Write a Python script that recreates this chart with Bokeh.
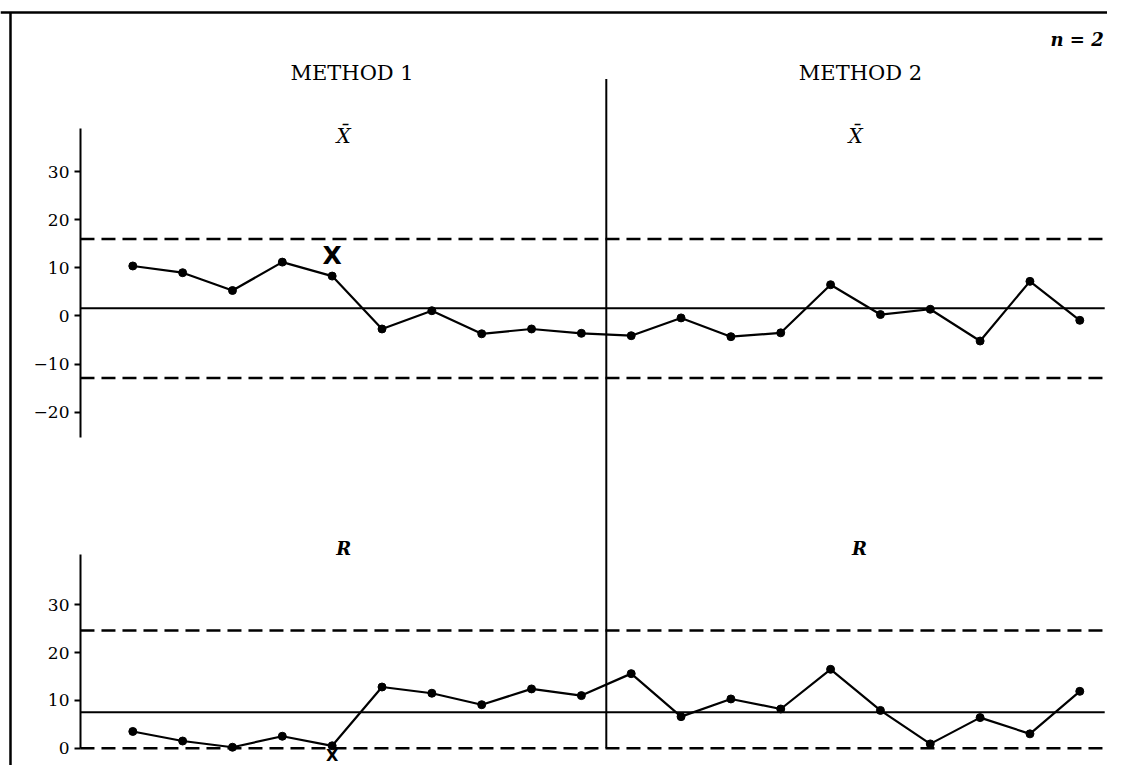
from bokeh.plotting import figure
from bokeh.models import Range1d, LinearAxis, FixedTicker, Label, Span
from bokeh.core.properties import value
from bokeh.embed import file_html
from bokeh.resources import INLINE

# ---------------- data ----------------
sample = list(range(1, 21))
xbar = [10.4, 9.0, 5.3, 11.2, 8.3, -2.7, 1.1, -3.7, -2.7, -3.6,
        -4.1, -0.4, -4.3, -3.5, 6.5, 0.3, 1.4, -5.2, 7.2, -0.9]
rng = [3.5, 1.5, 0.2, 2.5, 0.5, 12.8, 11.5, 9.1, 12.4, 11.0,
       15.6, 6.6, 10.3, 8.2, 16.5, 7.9, 0.9, 6.4, 3.0, 11.9]
xbar_center = [1.6]
xbar_limits = [16.0, -12.9]
r_center = [7.5]
r_limits = [24.6, 0.0]
xbar_ticks = [-20, -10, 0, 10, 20, 30]
r_ticks = [0, 10, 20, 30]
method_labels = ["METHOD 1", "METHOD 2"]
flag_sample = [5]
xbar_flag = [12.5]
r_flag = [-1.5]

# ---------------- layout constants ----------------
W, H = 1107, 765
AX = -0.05          # x position of the y axes (sample units)
XEND = 20.5         # right end of the control lines
DIV = 10.5          # divider between the methods
SERIF = "DejaVu Serif"

p = figure(width=W, height=H, x_range=Range1d(-1.6545, 20.556),
           y_range=Range1d(-93.45, 65.59), output_backend="svg",
           toolbar_location=None, min_border=0, x_axis_type=None,
           y_axis_type=None, background_fill_color="white",
           border_fill_color="white")
p.outline_line_color = None
p.extra_y_ranges = {"r": Range1d(-3.62, 156.42)}

# frame (top and left edges)
p.add_layout(Span(location=63.1, dimension="width", line_color="black", line_width=2.5))
p.segment(x0=[-1.454], x1=[-1.454], y0=[63.1], y1=[-93.45],
          line_color="black", line_width=2.5)

def style_axis(ax):
    ax.axis_line_width = 2
    ax.axis_line_color = "black"
    ax.major_tick_line_width = 2
    ax.major_tick_out = 6
    ax.major_tick_in = 0
    ax.minor_tick_out = 0
    ax.minor_tick_in = 0
    ax.major_label_text_font = SERIF
    ax.major_label_text_font_size = "17px"
    ax.major_label_text_color = "black"
    ax.major_label_standoff = 5

ax1 = LinearAxis(fixed_location=AX, bounds=(-25.3, 39),
                 ticker=FixedTicker(ticks=xbar_ticks))
ax1.major_label_overrides = {t: ("\u2212" + str(-t)) for t in xbar_ticks if t < 0}
style_axis(ax1)
p.add_layout(ax1, "left")

ax2 = LinearAxis(fixed_location=AX, bounds=(0, 40.5), y_range_name="r",
                 ticker=FixedTicker(ticks=r_ticks))
style_axis(ax2)
p.add_layout(ax2, "left")

# divider between methods
p.segment(x0=[DIV], x1=[DIV], y0=[0], y1=[140], y_range_name="r",
          line_color="black", line_width=2)

# control lines - X bar
p.segment(x0=[AX], x1=[XEND], y0=xbar_center, y1=xbar_center,
          line_color="black", line_width=2)
p.segment(x0=[AX] * 2, x1=[XEND] * 2, y0=xbar_limits, y1=xbar_limits,
          line_color="black", line_width=2.5, line_dash="14 7")
# control lines - R
p.segment(x0=[AX], x1=[XEND], y0=r_center, y1=r_center, y_range_name="r",
          line_color="black", line_width=2)
p.segment(x0=[AX] * 2, x1=[XEND] * 2, y0=r_limits, y1=r_limits, y_range_name="r",
          line_color="black", line_width=2.5, line_dash="14 7")

# series
p.line(sample, xbar, line_color="black", line_width=2.2)
p.scatter(sample, xbar, size=8, color="black")
p.line(sample, rng, line_color="black", line_width=2.2, y_range_name="r")
p.scatter(sample, rng, size=8, color="black", y_range_name="r")

# out-of-control flags
p.text(x=flag_sample, y=xbar_flag, text=["X"], text_font=value("DejaVu Sans"),
       text_font_style="bold", text_font_size="25px", text_align="center",
       text_baseline="middle", text_color="black")
p.text(x=flag_sample, y=r_flag, text=["X"], text_font=value("DejaVu Sans"),
       text_font_style="bold", text_font_size="16px", text_align="center",
       text_baseline="middle", text_color="black", y_range_name="r")

# titles
for xm, lab in zip([5.4, 15.6], method_labels):
    p.add_layout(Label(x=xm, y=50.5, text=lab, text_font=SERIF, text_font_size="21px",
                       text_align="center", text_baseline="middle", text_color="black"))
for xm in [5.23, 15.5]:
    p.add_layout(Label(x=xm, y=37.5, text="X\u0304", text_font=SERIF,
                       text_font_style="italic", text_font_size="20px",
                       text_align="center", text_baseline="middle", text_color="black"))
for xm in [5.23, 15.58]:
    p.add_layout(Label(x=xm, y=41.8, y_range_name="r", text="R", text_font=SERIF,
                       text_font_style="bold italic", text_font_size="18px",
                       text_align="center", text_baseline="middle", text_color="black"))
p.add_layout(Label(x=20.48, y=57.5, text="n = 2", text_font=SERIF,
                   text_font_style="bold italic", text_font_size="18px",
                   text_align="right", text_baseline="middle", text_color="black"))

open("out.html", "w").write(file_html(p, INLINE))
